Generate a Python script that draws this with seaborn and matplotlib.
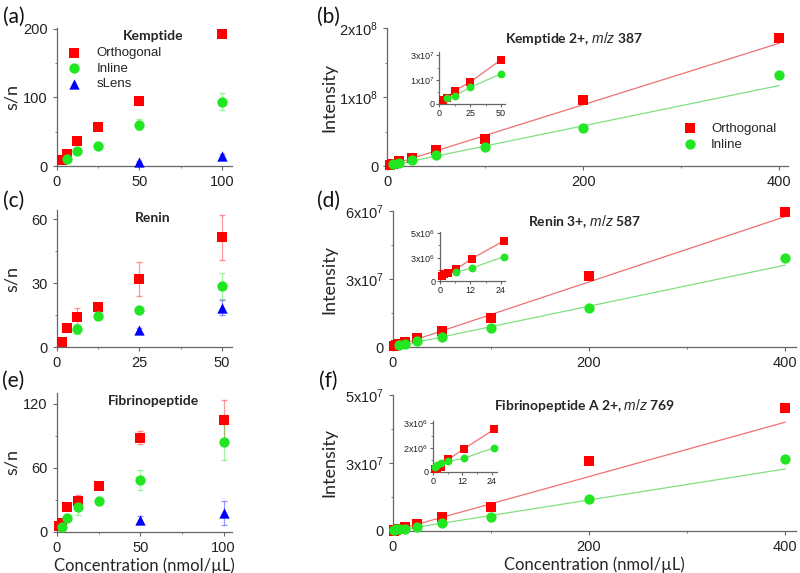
import numpy as np
import pandas as pd
import matplotlib
matplotlib.use('Agg')
import matplotlib.pyplot as plt
import seaborn as sns
from matplotlib.ticker import FixedLocator

# ---- s/n data (left column) ----
kem_orth_x = [3.125, 6.25, 12.5, 25, 50, 100]
kem_orth_y = [9, 17, 37, 57, 95, 193]
kem_orth_err = [1, 1, 2, 2, 6, 2]
kem_inl_x = [6.25, 12.5, 25, 50, 100]
kem_inl_y = [11, 22, 30, 60, 94]
kem_inl_err = [1, 2, 2, 8, 12]
kem_sl_x = [50, 100]
kem_sl_y = [6, 15]
kem_sl_err = [1, 2]

ren_orth_x = [1.5625, 3.125, 6.25, 12.5, 25, 50]
ren_orth_y = [2.5, 9, 14.2, 19, 32, 51.5]
ren_orth_err = [0.5, 1.5, 4, 1, 8, 10.5]
ren_inl_x = [6.25, 12.5, 25, 50]
ren_inl_y = [8.6, 14.5, 17.4, 28.8]
ren_inl_err = [2.5, 1.5, 1, 6]
ren_sl_x = [25, 50]
ren_sl_y = [8, 18.6]
ren_sl_err = [1, 3.5]

fib_orth_x = [1.5625, 3.125, 6.25, 12.5, 25, 50, 100]
fib_orth_y = [5.6, 8.7, 23, 29, 43, 88, 105]
fib_orth_err = [1, 1, 1.5, 6, 1.5, 6, 18]
fib_inl_x = [3.125, 6.25, 12.5, 25, 50, 100]
fib_inl_y = [5, 12.8, 23, 28.8, 48.7, 84]
fib_inl_err = [1, 1.5, 7, 1.5, 9, 17]
fib_sl_x = [50, 100]
fib_sl_y = [11, 17.5]
fib_sl_err = [4, 11]

# ---- intensity data (right column) ----
kem_i_orth_x = [3.125, 6.25, 12.5, 25, 50, 100, 200, 400]
kem_i_orth_y = [2.2e6, 3.3e6, 6.9e6, 11.4e6, 23e6, 39e6, 96e6, 185.5e6]
kem_i_inl_x = [6.25, 12.5, 25, 50, 100, 200, 400]
kem_i_inl_y = [2.9e6, 4.3e6, 8.6e6, 15.7e6, 27.5e6, 55e6, 132e6]
kem_fit_slope = [4.45e5, 2.92e5]   # orthogonal, inline

ren_i_orth_x = [0.78125, 1.5625, 3.125, 6.25, 12.5, 25, 50, 100, 200, 400]
ren_i_orth_y = [0.58e6, 0.72e6, 0.82e6, 1.23e6, 2.33e6, 4.15e6, 7.2e6, 12.9e6, 31.5e6, 59.5e6]
ren_i_inl_x = [6.25, 12.5, 25, 50, 100, 200, 400]
ren_i_inl_y = [0.93e6, 1.37e6, 2.53e6, 4.5e6, 8.7e6, 17.3e6, 39.4e6]
ren_fit_slope = [1.44e5, 0.905e5]

fib_i_orth_x = [0.78125, 1.5625, 3.125, 6.25, 12.5, 25, 50, 100, 200, 400]
fib_i_orth_y = [0.15e6, 0.21e6, 0.31e6, 0.77e6, 1.41e6, 2.63e6, 5.0e6, 8.7e6, 25.7e6, 45.1e6]
fib_i_inl_x = [0.78125, 1.5625, 3.125, 6.25, 12.5, 25, 50, 100, 200, 400]
fib_i_inl_y = [0.3e6, 0.41e6, 0.56e6, 0.64e6, 0.83e6, 1.49e6, 2.8e6, 5.3e6, 11.8e6, 26.5e6]
fib_fit_slope = [1.0e5, 0.57e5]

RED = '#FF0000'
GREEN = '#22E622'
BLUE = '#0000FF'
LRED = '#F07070'
LGREEN = '#7FE07F'
AXC = '#666666'

sns.set_style('ticks')
plt.rcParams['font.family'] = ['Liberation Sans', 'DejaVu Sans']
plt.rcParams['mathtext.fontset'] = 'custom'
plt.rcParams['mathtext.rm'] = 'Liberation Sans'
plt.rcParams['mathtext.it'] = 'Liberation Sans:italic'

fig = plt.figure(figsize=(8, 5.73), dpi=100)


def style_axes(ax, size=10, tlen=3):
    sns.despine(ax=ax)
    for s in ['left', 'bottom']:
        ax.spines[s].set_color(AXC)
        ax.spines[s].set_linewidth(0.9)
    ax.tick_params(which='both', colors=AXC, labelcolor='#222222', labelsize=size, direction='out')
    ax.tick_params(which='major', length=tlen, width=0.8)
    ax.tick_params(which='minor', length=tlen * 0.6, width=0.6)
    ax.set_xlabel('')
    ax.set_ylabel('')


def sn_panel(rect, series, xlim, ylim, xt, yt, title, tx, legend=False, xlabel=False):
    ax = fig.add_axes(rect)
    for x, y, e, c, m, lab in series:
        ax.errorbar(x, y, yerr=e, fmt='none', ecolor=c, alpha=0.4, elinewidth=0.9, capsize=2)
        df = pd.DataFrame({'x': x, 'y': y})
        sns.scatterplot(data=df, x='x', y='y', ax=ax, color=c, marker=m,
                        s=55 if m != 's' else 50, linewidth=0, label=lab, clip_on=False, zorder=3)
    ax.set_xlim(xlim)
    ax.set_ylim(ylim)
    ax.xaxis.set_major_locator(FixedLocator(xt))
    ax.yaxis.set_major_locator(FixedLocator(yt))
    ax.xaxis.set_minor_locator(FixedLocator([(xt[0] + xt[1]) / 2, (xt[1] + xt[2]) / 2]))
    ax.yaxis.set_minor_locator(FixedLocator([(yt[0] + yt[1]) / 2, (yt[1] + yt[2]) / 2]))
    style_axes(ax, size=10.5)
    ax.set_ylabel('s/n', family='Lato', fontsize=13)
    ax.yaxis.set_label_coords(-0.21, 0.5)
    if xlabel:
        ax.set_xlabel('Concentration (nmol/\u00b5L)', family='Lato', fontsize=12, labelpad=2)
    ax.text(tx, 0.985, title, transform=ax.transAxes, ha='center', va='top',
            family='Lato', fontweight='bold', fontsize=10)
    if legend:
        ax.legend(loc='upper left', bbox_to_anchor=(0.0, 0.93), frameon=False, fontsize=9.5,
                  handletextpad=1.1, labelspacing=0.25, borderaxespad=0.3, handlelength=1.2)
    elif ax.get_legend() is not None:
        ax.get_legend().remove()
    return ax


def inten_panel(rect, inset_rect, ox, oy, ix, iy, slopes, xmax, ymax, yt, ylabs,
                ixlim, iylim, ixt, iyt, iylabs, inset_cut, title, tx, legend=False, xlabel=False):
    ax = fig.add_axes(rect)
    for x, y, sl, c, lc, m, lab in [(ox, oy, slopes[0], RED, LRED, 's', 'Orthogonal'),
                                    (ix, iy, slopes[1], GREEN, LGREEN, 'o', 'Inline')]:
        xf = np.array([0, max(x)])
        fit = pd.DataFrame({'x': xf, 'y': sl * xf})
        sns.lineplot(data=fit, x='x', y='y', ax=ax, color=lc, linewidth=0.9, zorder=2)
        df = pd.DataFrame({'x': x, 'y': y})
        sns.scatterplot(data=df, x='x', y='y', ax=ax, color=c, marker=m,
                        s=55 if m == 'o' else 50, linewidth=0, label=lab, clip_on=False, zorder=3)
    ax.set_xlim(0, xmax)
    ax.set_ylim(0, ymax)
    ax.xaxis.set_major_locator(FixedLocator([0, 200, 400]))
    ax.xaxis.set_minor_locator(FixedLocator([100, 300]))
    ax.yaxis.set_major_locator(FixedLocator(yt))
    ax.yaxis.set_minor_locator(FixedLocator([yt[1] / 2, (yt[1] + yt[2]) / 2]))
    ax.set_yticklabels(ylabs)
    style_axes(ax, size=10.5)
    ax.set_ylabel('Intensity', family='Lato', fontsize=13)
    ax.yaxis.set_label_coords((337 - rect[0] * 800) / (rect[2] * 800), 0.5)
    if xlabel:
        ax.set_xlabel('Concentration (nmol/\u00b5L)', family='Lato', fontsize=12, labelpad=2)
    ax.text(tx, 0.985, title, transform=ax.transAxes, ha='center', va='top',
            family='Lato', fontweight='bold', fontsize=10)
    if legend:
        ax.legend(loc='center right', bbox_to_anchor=(1.0, 0.215), frameon=False, fontsize=9.5,
                  handletextpad=1.0, labelspacing=0.3, handlelength=1.2)
    elif ax.get_legend() is not None:
        ax.get_legend().remove()

    # inset: low concentration range, points joined by lines
    ins = fig.add_axes(inset_rect)
    for x, y, c, lc, m in [(ox, oy, RED, LRED, 's'), (ix, iy, GREEN, LGREEN, 'o')]:
        df = pd.DataFrame({'x': x, 'y': y})
        df = df[df['x'] <= inset_cut]
        sns.lineplot(data=df, x='x', y='y', ax=ins, color=lc, linewidth=0.9, zorder=2)
        sns.scatterplot(data=df, x='x', y='y', ax=ins, color=c, marker=m,
                        s=32, linewidth=0, clip_on=False, zorder=3, legend=False)
    ins.set_xlim(ixlim)
    ins.set_ylim(iylim)
    ins.xaxis.set_major_locator(FixedLocator(ixt))
    ins.xaxis.set_minor_locator(FixedLocator([(ixt[0] + ixt[1]) / 2, (ixt[1] + ixt[2]) / 2]))
    ins.yaxis.set_major_locator(FixedLocator(iyt))
    ins.yaxis.set_minor_locator(FixedLocator([iyt[1] / 2, (iyt[1] + iyt[2]) / 2]))
    ins.set_yticklabels(iylabs)
    style_axes(ins, size=6.5, tlen=2)
    ins.tick_params(pad=1.5)
    return ax


# left column
sn_panel([0.071, 0.710, 0.219, 0.241],
         [(kem_orth_x, kem_orth_y, kem_orth_err, RED, 's', 'Orthogonal'),
          (kem_inl_x, kem_inl_y, kem_inl_err, GREEN, 'o', 'Inline'),
          (kem_sl_x, kem_sl_y, kem_sl_err, BLUE, '^', 'sLens')],
         (0, 106), (0, 201), [0, 50, 100], [0, 100, 200], 'Kemptide', 0.55, legend=True)
sn_panel([0.071, 0.394, 0.219, 0.239],
         [(ren_orth_x, ren_orth_y, ren_orth_err, RED, 's', None),
          (ren_inl_x, ren_inl_y, ren_inl_err, GREEN, 'o', None),
          (ren_sl_x, ren_sl_y, ren_sl_err, BLUE, '^', None)],
         (0, 53), (0, 64.2), [0, 25, 50], [0, 30, 60], 'Renin', 0.55)
sn_panel([0.071, 0.0716, 0.219, 0.2426],
         [(fib_orth_x, fib_orth_y, fib_orth_err, RED, 's', None),
          (fib_inl_x, fib_inl_y, fib_inl_err, GREEN, 'o', None),
          (fib_sl_x, fib_sl_y, fib_sl_err, BLUE, '^', None)],
         (0, 105), (0, 130), [0, 50, 100], [0, 60, 120], 'Fibrinopeptide', 0.55, xlabel=True)

# right column
inten_panel([0.484, 0.710, 0.501, 0.241], [0.549, 0.8185, 0.0825, 0.0908],
            kem_i_orth_x, kem_i_orth_y, kem_i_inl_x, kem_i_inl_y, kem_fit_slope,
            409, 2e8, [0, 1e8, 2e8], ['0', '1x10$^{8}$', '2x10$^{8}$'],
            (0, 53.3), (0, 2.7e7), [0, 25, 50], [0, 1.22e7, 2.54e7],
            ['0', '1x10$^{7}$', '3x10$^{7}$'], 50,
            'Kemptide 2+, $\\mathit{m/z}$ 387', 0.465, legend=True)
inten_panel([0.491, 0.394, 0.504, 0.2375], [0.55, 0.509, 0.0813, 0.086],
            ren_i_orth_x, ren_i_orth_y, ren_i_inl_x, ren_i_inl_y, ren_fit_slope,
            411, 6e7, [0, 3e7, 6e7], ['0', '3x10$^{7}$', '6x10$^{7}$'],
            (0, 25.6), (0, 5.07e6), [0, 12, 24], [0, 2.43e6, 5e6],
            ['0', '3x10$^{6}$', '5x10$^{6}$'], 25,
            'Renin 3+, $\\mathit{m/z}$ 587', 0.475)
inten_panel([0.491, 0.0733, 0.504, 0.2374], [0.5416, 0.1768, 0.0793, 0.089],
            fib_i_orth_x, fib_i_orth_y, fib_i_inl_x, fib_i_inl_y, fib_fit_slope,
            411, 5e7, [0, 2.5e7, 5e7], ['0', '3x10$^{7}$', '5x10$^{7}$'],
            (0, 26.1), (0, 3.17e6), [0, 12, 24], [0, 1.49e6, 3e6],
            ['0', '2x10$^{6}$', '3x10$^{6}$'], 25,
            'Fibrinopeptide A 2+, $\\mathit{m/z}$ 769', 0.475, xlabel=True)

# panel letters
for lab, x, y in [('(a)', 0.017, 0.97), ('(b)', 0.41, 0.97),
                  ('(c)', 0.017, 0.65), ('(d)', 0.41, 0.65),
                  ('(e)', 0.017, 0.335), ('(f)', 0.41, 0.335)]:
    fig.text(x, y, lab, family='Lato', fontsize=15, va='center', ha='center', color='#111111')

fig.savefig('out.png', dpi=100)
